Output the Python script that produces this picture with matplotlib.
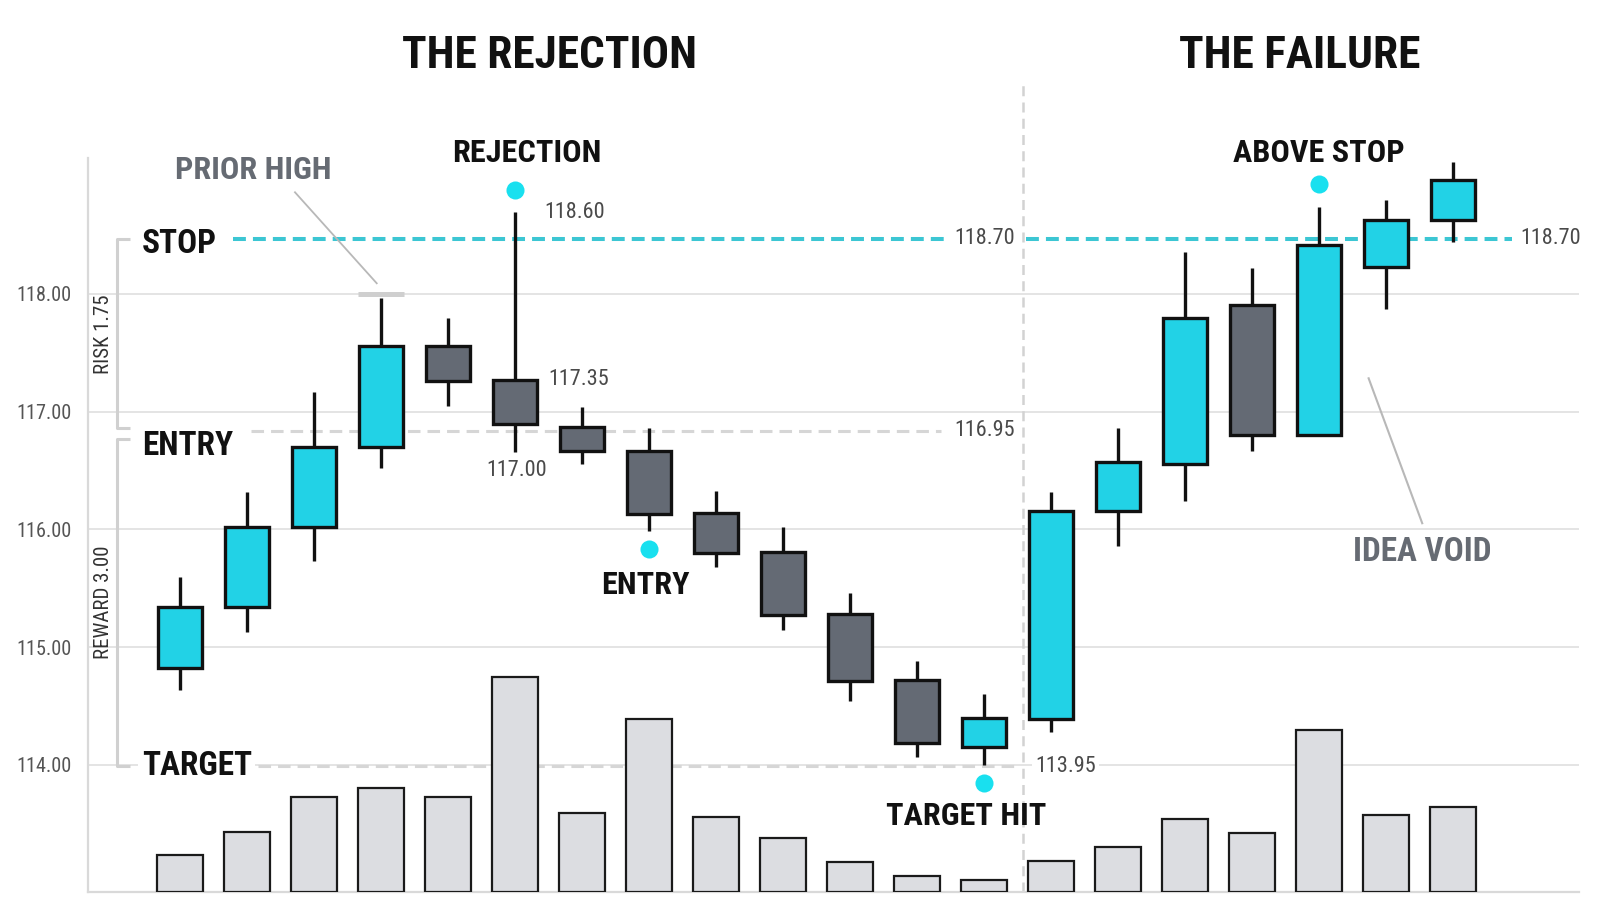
import numpy as np
import matplotlib
matplotlib.use("Agg")
import matplotlib.pyplot as plt
from matplotlib import font_manager as fm

# ---------------- data ----------------
opens  = [114.82, 115.34, 116.02, 116.70, 117.56, 117.27, 116.87, 116.67, 116.14, 115.81,
          115.28, 114.72, 114.15, 114.39, 116.16, 116.56, 117.91, 116.80, 118.23, 118.63]
closes = [115.34, 116.02, 116.70, 117.56, 117.26, 116.90, 116.67, 116.13, 115.80, 115.27,
          114.71, 114.19, 114.40, 116.16, 116.57, 117.80, 116.80, 118.42, 118.63, 118.97]
highs  = [115.60, 116.32, 117.17, 117.97, 117.80, 118.70, 117.04, 116.86, 116.33, 116.02,
          115.46, 114.88, 114.60, 116.32, 116.86, 118.36, 118.22, 118.74, 118.80, 119.12]
lows   = [114.64, 115.13, 115.73, 116.52, 117.05, 116.66, 116.56, 115.99, 115.68, 115.15,
          114.54, 114.07, 114.00, 114.28, 115.86, 116.24, 116.67, 116.80, 117.87, 118.44]
volumes = [37, 60, 95, 104, 95, 215, 79, 173, 75, 54,
           30, 16, 12, 31, 45, 73, 59, 162, 77, 85]

price_ticks = [114.0, 115.0, 116.0, 117.0, 118.0]
tick_labels = ["114.00", "115.00", "116.00", "117.00", "118.00"]

stop_level, entry_level, target_level = 118.47, 116.84, 113.99
stop_label, entry_label, target_label = "118.70", "116.95", "113.95"
prior_high = 118.00
section_titles = ["THE REJECTION", "THE FAILURE"]
risk_text, reward_text = "RISK 1.75", "REWARD 3.00"
rej_high_label, rej_open_label, rej_low_label = "118.60", "117.35", "117.00"

rejection_bar, entry_bar, target_bar, above_stop_bar = 5, 7, 12, 17
signal_dots = [118.88, 115.83, 113.85, 118.93]

# ---------------- fonts ----------------
names = {f.name for f in fm.fontManager.ttflist}
if "Roboto Condensed" in names:
    FAM = ["Roboto Condensed", "Roboto", "DejaVu Sans"]
    kb, kn = 1.02, 1.0
elif "Liberation Sans Narrow" in names:
    FAM = ["Liberation Sans Narrow", "Roboto", "DejaVu Sans"]
    kb, kn = 1.0, 1.0
else:
    FAM = ["Roboto", "DejaVu Sans"]
    kb, kn = 0.895, 0.9

CYAN = "#22d2e6"
DARK = "#646a74"
DOT = "#19e0ef"
STOPC = "#3cc6d3"
LGRAY = "#d6d6d6"
INK = "#111111"
GRAYTXT = "#666b73"
NUMTXT = "#4a4a4a"

fig = plt.figure(figsize=(16, 9.14), dpi=100)
fig.patch.set_facecolor("white")
ax = fig.add_axes([0.05488, 0.02407, 0.932, 0.80306])

x = np.arange(len(opens))
ax.set_xlim(-1.376, 20.88)
ax.set_ylim(112.921, 119.155)

# grid / spines / ticks
ax.set_yticks(price_ticks)
ax.set_yticklabels(tick_labels)
ax.set_xticks([])
ax.tick_params(axis="y", length=0, pad=12, labelsize=14.6 * kn, labelcolor="#555555")
for lab in ax.get_yticklabels():
    lab.set_family(FAM)
ax.yaxis.grid(True, color="#e2e2e2", lw=1.3, zorder=0)
ax.set_axisbelow(True)
for s in ["top", "right"]:
    ax.spines[s].set_visible(False)
for s in ["left", "bottom"]:
    ax.spines[s].set_color("#d9d9d9")
    ax.spines[s].set_linewidth(1.6)

# section separator
ax.axvline(12.58, ymin=0, ymax=1.1035, clip_on=False, color="#d2d2d2",
           lw=1.8, ls=(0, (4, 2.5)), zorder=1)

# level lines
ax.hlines(stop_level, 0.796, 11.448, color=STOPC, lw=2.9, linestyles=[(0, (3.2, 1.75))], zorder=2)
ax.hlines(stop_level, 12.62, 19.88, color=STOPC, lw=2.9, linestyles=[(0, (3.2, 1.75))], zorder=2)
ax.hlines(entry_level, 1.055, 11.36, color=LGRAY, lw=2.2, linestyles=[(0, (4.1, 2.3))], zorder=1.5)
ax.hlines(target_level, 1.164, 12.49, color=LGRAY, lw=2.2, linestyles=[(0, (4.1, 2.3))], zorder=1.5)

num_kw = dict(family=FAM, fontsize=16 * kn, color=NUMTXT, va="center", ha="left")
ax.text(11.55, stop_level, stop_label, **num_kw)
ax.text(20.01, stop_level, stop_label, clip_on=False, **num_kw)
ax.text(11.56, entry_level, entry_label, **num_kw)
ax.text(12.76, target_level, target_label,
        bbox=dict(boxstyle="square,pad=0.15", fc="white", ec="none"), **num_kw)

# candles
colors = [CYAN if c > o else DARK for o, c in zip(opens, closes)]
ax.vlines(x, lows, highs, color=INK, lw=2.4, zorder=3)
ax.bar(x, np.array(closes) - np.array(opens), bottom=opens, width=0.67,
       color=colors, edgecolor=INK, linewidth=2.4, zorder=4)

# prior high marker
ax.hlines(prior_high, 3 - 0.35, 3 + 0.35, color="#cfcfcf", lw=3.6, zorder=2.5)
ax.plot([1.716, 2.936], [118.864, 118.091], color="#b8b8b8", lw=1.3, zorder=2)
ax.text(1.09, 119.053, "PRIOR HIGH", family=FAM, fontsize=22.7 * kb, fontweight="bold",
        color=GRAYTXT, ha="center", va="center", clip_on=False)

# left labels + brackets
lab_kw = dict(family=FAM, fontsize=23.5 * kb, fontweight="bold", color=INK, ha="left", va="center")
ax.text(-0.572, stop_level - 0.045, "STOP", **lab_kw)
ax.text(-0.572, entry_level - 0.135, "ENTRY", **lab_kw)
ax.text(-0.572, target_level + 0.0, "TARGET",
        bbox=dict(boxstyle="square,pad=0.1", fc="white", ec="none"), **lab_kw)

br_kw = dict(color="#d0d0d0", lw=2.2, clip_on=False, zorder=2, solid_capstyle="butt")
ax.plot([-0.746, -0.936, -0.936, -0.746], [stop_level, stop_level, entry_level + 0.02, entry_level + 0.02], **br_kw)
ax.plot([-0.746, -0.936, -0.936, -0.746], [entry_level - 0.07, entry_level - 0.07, target_level, target_level], **br_kw)
ax.text(-1.149, (stop_level + entry_level) / 2, risk_text, rotation=90, family=FAM,
        fontsize=15 * kn, color="#333333", ha="center", va="center")
ax.text(-1.149, (entry_level - 0.07 + target_level) / 2, reward_text, rotation=90, family=FAM,
        fontsize=15 * kn, color="#333333", ha="center", va="center")

# signal dots
dot_x = [rejection_bar, entry_bar, target_bar, above_stop_bar]
ax.plot(dot_x, signal_dots, "o", ms=13, color=DOT, mec="none", zorder=6, clip_on=False)

# annotations
ann_kw = dict(family=FAM, fontsize=22.7 * kb, fontweight="bold", color=INK,
              ha="center", va="center", clip_on=False)
ax.text(5.18, 119.195, "REJECTION", **ann_kw)
ax.text(6.94, 115.53, "ENTRY", **ann_kw)
ax.text(11.74, 113.57, "TARGET HIT", **ann_kw)
ax.text(17.0, 119.2, "ABOVE STOP", **ann_kw)
ax.text(18.54, 115.81, "IDEA VOID", family=FAM, fontsize=23.5 * kb, fontweight="bold",
        color=GRAYTXT, ha="center", va="center")
ax.plot([17.74, 18.54], [117.284, 116.053], color="#b8b8b8", lw=1.5, zorder=2)

ax.text(5.44, 118.688, rej_high_label, **num_kw)
ax.text(5.49, 117.27, rej_open_label, **num_kw)
ax.text(5.03, 116.497, rej_low_label, family=FAM, fontsize=16 * kn, color=NUMTXT,
        ha="center", va="center")

# volume (secondary axis)
axv = ax.twinx()
axv.set_ylim(0, 734)
axv.bar(x, volumes, width=0.69, color="#dcdde1", edgecolor="#1a1a1a", linewidth=1.6, zorder=2)
axv.axis("off")

# section titles
fig.text(549 / 1600, 1 - 56 / 914, section_titles[0], family=FAM, fontsize=32 * kb,
         fontweight="bold", color=INK, ha="center", va="center")
fig.text(1300 / 1600, 1 - 56 / 914, section_titles[1], family=FAM, fontsize=32 * kb,
         fontweight="bold", color=INK, ha="center", va="center")

fig.savefig("out.png", dpi=100, facecolor="white")
